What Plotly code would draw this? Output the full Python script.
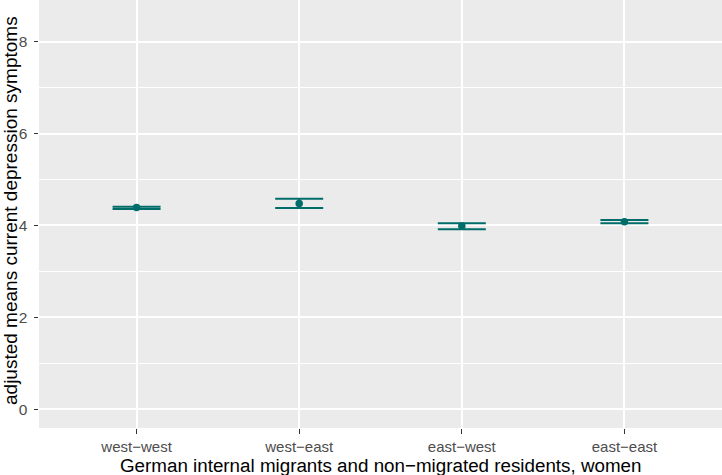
import plotly.graph_objects as go

categories = ["west\u2212west", "west\u2212east", "east\u2212west", "east\u2212east"]
means = [4.39, 4.48, 3.99, 4.08]
ci_low = [4.36, 4.38, 3.92, 4.05]
ci_high = [4.41, 4.58, 4.05, 4.12]
y_ticks = [0, 2, 4, 6, 8]

color = "#006D6A"
plus = [h - m for h, m in zip(ci_high, means)]
minus = [m - l for m, l in zip(means, ci_low)]

W, H = 722, 475
ML, MR, MT, MB = 39, 0, 0, 47
pw, ph = W - ML - MR, H - MT - MB

fig = go.Figure()
fig.add_trace(go.Scatter(
    x=categories, y=means, mode="markers",
    marker=dict(color=color, size=7.5),
    error_y=dict(type="data", array=plus, arrayminus=minus, color=color,
                 thickness=2, width=24, visible=True),
    showlegend=False,
))

fig.update_layout(
    width=W, height=H,
    margin=dict(l=ML, r=MR, t=MT, b=MB),
    paper_bgcolor="white", plot_bgcolor="#EBEBEB",
    font=dict(family="Liberation Sans, Arial, sans-serif"),
    xaxis=dict(
        type="category", range=[-0.6, 3.6],
        showgrid=True, gridcolor="white", gridwidth=1.5,
        ticks="outside", ticklen=4.5, tickcolor="#333333", tickwidth=1.3,
        tickfont=dict(size=15, color="#4D4D4D"),
        zeroline=False, showline=False,
    ),
    yaxis=dict(
        range=[-0.41, 8.91], tickvals=y_ticks,
        showgrid=True, gridcolor="white", gridwidth=1.5,
        minor=dict(dtick=1, tick0=1, showgrid=True, gridcolor="white", gridwidth=0.7),
        ticks="outside", ticklen=4.5, tickcolor="#333333", tickwidth=1.3,
        ticklabelstandoff=3,
        tickfont=dict(size=15.5, color="#4D4D4D"),
        zeroline=False, showline=False,
    ),
    annotations=[
        dict(text="German internal migrants and non\u2212migrated residents, women",
             x=0.5, xref="paper", xanchor="center",
             y=(ph - (465 - MT)) / ph, yref="paper", yanchor="middle",
             showarrow=False, font=dict(size=18.8, color="black")),
        dict(text="adjusted means current depression symptoms",
             x=(10 - ML) / pw, xref="paper", xanchor="center",
             y=(ph - (211 - MT)) / ph, yref="paper", yanchor="middle",
             textangle=-90, showarrow=False,
             font=dict(size=19, color="black")),
    ],
)

fig.write_html("out.html")
